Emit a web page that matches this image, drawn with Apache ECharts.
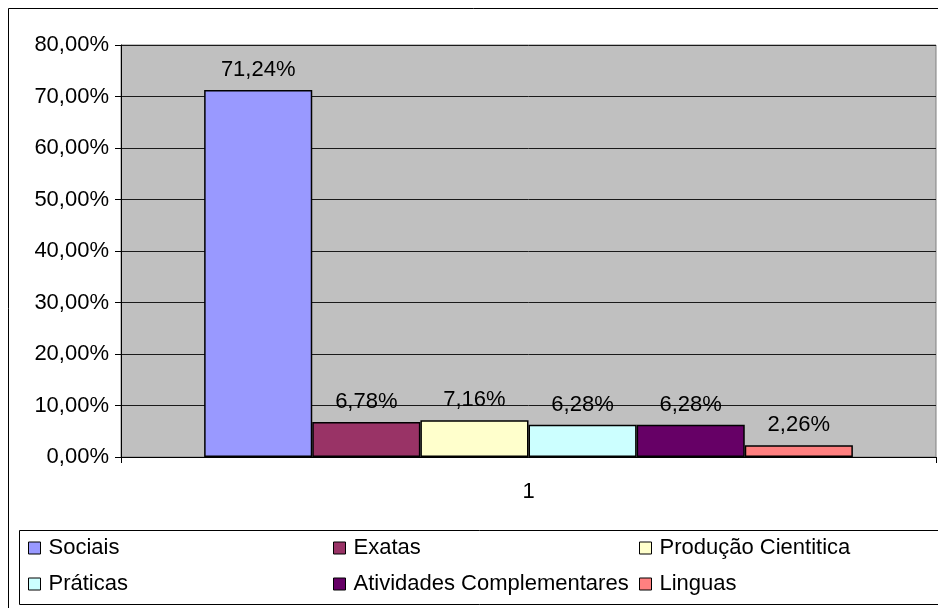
<!DOCTYPE html>
<html>
<head>
<meta charset="utf-8">
<script src="https://cdn.jsdelivr.net/npm/echarts@6/dist/echarts.min.js"></script>
<style>html,body{margin:0;padding:0;background:#fff}#c{width:938px;height:608px}</style>
</head>
<body>
<div id="c"></div>
<script>
const categories = ['1'];
const seriesNames = ['Sociais', 'Exatas', 'Produção Cientitica', 'Práticas', 'Atividades Complementares', 'Linguas'];
const values = [71.24, 6.78, 7.16, 6.28, 6.28, 2.26];
const colors = ['#9999FF', '#993366', '#FFFFCC', '#CCFFFF', '#660066', '#FF8080'];
const yMin = 0, yMax = 80, yStep = 10;

const FONT = 'Liberation Sans';
const FS = 22;
const fmt = v => v.toFixed(2).replace('.', ',') + '%';

const legendPos = [
  {left: 28, top: 542}, {left: 333, top: 542}, {left: 639, top: 542},
  {left: 28, top: 578}, {left: 333, top: 578}, {left: 639, top: 578}
];

const chart = echarts.init(document.getElementById('c'));
chart.setOption({
  animation: false,
  backgroundColor: '#fff',
  textStyle: {fontFamily: FONT},
  grid: {left: 121, right: 2, top: 45, bottom: 151, show: true, backgroundColor: '#C0C0C0', borderColor: '#808080', borderWidth: 1},
  legend: seriesNames.map((n, i) => ({
    data: [n], left: legendPos[i].left, top: legendPos[i].top - 5, padding: 0,
    icon: 'rect', itemWidth: 12, itemHeight: 12,
    itemStyle: {borderColor: '#000', borderWidth: 1},
    textStyle: {fontFamily: FONT, fontSize: FS, color: '#000', padding: [0, 0, 0, 3]},
    selectedMode: false
  })),
  xAxis: {
    type: 'category', data: categories,
    axisLine: {lineStyle: {color: '#000', width: 1}},
    axisTick: {show: true, length: 6, lineStyle: {color: '#000'}},
    axisLabel: {fontFamily: FONT, fontSize: FS, color: '#000', margin: 24},
    splitLine: {show: false}
  },
  yAxis: {
    type: 'value', min: yMin, max: yMax, interval: yStep,
    axisLine: {show: true, lineStyle: {color: '#000', width: 1}},
    axisTick: {show: true, length: 6, lineStyle: {color: '#000'}},
    axisLabel: {fontFamily: FONT, fontSize: FS, color: '#000', margin: 12, formatter: v => fmt(v)},
    splitLine: {show: true, lineStyle: {color: '#1a1a1a', width: 1}}
  },
  series: seriesNames.map((n, i) => ({
    name: n, type: 'bar', data: [values[i]],
    barGap: 0, barCategoryGap: '20.4%',
    itemStyle: {color: colors[i], borderColor: '#000', borderWidth: 1.5},
    label: {show: true, position: 'top', distance: 9, fontFamily: FONT, fontSize: FS, color: '#000', formatter: p => fmt(p.value)}
  })),
  graphic: [
    {type: 'rect', shape: {x: 8.5, y: 8.5, width: 940, height: 610}, style: {fill: 'none', stroke: '#000', lineWidth: 1}, silent: true},
    {type: 'rect', shape: {x: 19.5, y: 530.5, width: 930, height: 74}, style: {fill: 'none', stroke: '#000', lineWidth: 1}, silent: true}
  ]
});
</script>
</body>
</html>
